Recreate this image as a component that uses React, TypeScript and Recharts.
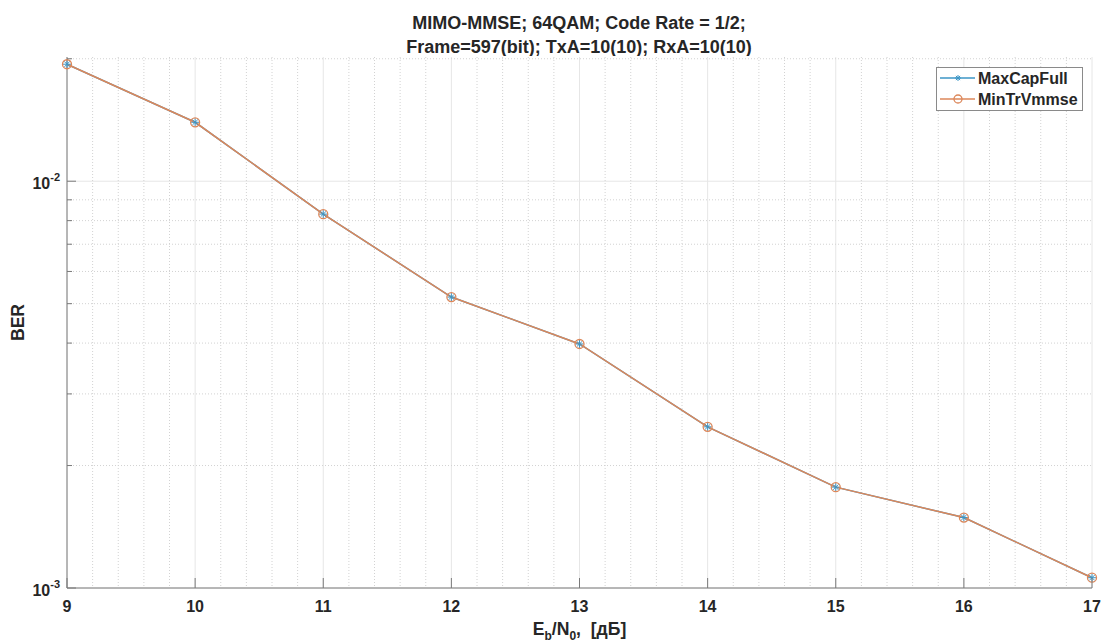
import React from 'react';
import {
  LineChart,
  Line,
  XAxis,
  YAxis,
  CartesianGrid,
  Legend,
} from 'recharts';

// Eb/N0 points (dB) and BER
const SNR_DB = [9, 10, 11, 12, 13, 14, 15, 16, 17];
const BER_MAXCAPFULL = [0.01939, 0.01396, 0.0083, 0.00519, 0.00398, 0.00249, 0.00177, 0.00149, 0.00106];
const BER_MINTRVMMSE = [0.01939, 0.01396, 0.0083, 0.00519, 0.00398, 0.00249, 0.00177, 0.00149, 0.00106];

const X_TICKS = [9, 10, 11, 12, 13, 14, 15, 16, 17];
const X_MINOR = X_TICKS.slice(0, -1).flatMap((t) => [t + 0.2, t + 0.4, t + 0.6, t + 0.8]);
const Y_MAJOR = [0.001, 0.01];
const Y_MINOR = [0.002, 0.003, 0.004, 0.005, 0.006, 0.007, 0.008, 0.009, 0.02];
const Y_TICKS = [0.001, 0.002, 0.003, 0.004, 0.005, 0.006, 0.007, 0.008, 0.009, 0.01, 0.02];
const Y_DOMAIN: [number, number] = [0.001, 0.0202];

const TITLE = ['MIMO-MMSE; 64QAM; Code Rate = 1/2;', 'Frame=597(bit); TxA=10(10); RxA=10(10)'];

const data = SNR_DB.map((snr, i) => ({
  snr,
  maxCap: BER_MAXCAPFULL[i],
  minTr: BER_MINTRVMMSE[i],
}));

const FONT = '"Liberation Sans", Arial, Helvetica, sans-serif';
const AXIS = '#7a7a7a';
const TEXT = '#262626';
const BLUE = '#3d96c6';
const ORANGE = '#dc875a';

const isDecade = (v: number) => Math.abs(Math.log10(v) - Math.round(Math.log10(v))) < 1e-6;

const BottomTick = ({ x, y, payload }: any) => (
  <g>
    <line x1={x} y1={y} x2={x} y2={y - 10} stroke={AXIS} />
    <text x={x} y={y + 24} textAnchor="middle" fontFamily={FONT} fontWeight="bold" fontSize={16} fill={TEXT}>
      {payload.value}
    </text>
  </g>
);

const TopTick = ({ x, y }: any) => <line x1={x} y1={y} x2={x} y2={y + 10} stroke={AXIS} />;

const LeftTick = ({ x, y, payload }: any) => {
  const major = isDecade(payload.value);
  return (
    <g>
      <line x1={x} y1={y} x2={x + (major ? 9 : 5)} y2={y} stroke={AXIS} />
      {major && (
        <text x={x - 7} y={y + 8} textAnchor="end" fontFamily={FONT} fontWeight="bold" fontSize={16} fill={TEXT}>
          10
          <tspan fontSize={11} dy={-8}>
            {Math.round(Math.log10(payload.value))}
          </tspan>
        </text>
      )}
    </g>
  );
};

const RightTick = ({ x, y, payload }: any) => {
  const major = isDecade(payload.value);
  return <line x1={x} y1={y} x2={x - (major ? 9 : 5)} y2={y} stroke={AXIS} />;
};

const Star = ({ cx, cy, color, r = 4 }: { cx: number; cy: number; color: string; r?: number }) => (
  <g stroke={color} strokeWidth={1}>
    <line x1={cx - r} y1={cy} x2={cx + r} y2={cy} />
    <line x1={cx} y1={cy - r} x2={cx} y2={cy + r} />
    <line x1={cx - r * 0.7} y1={cy - r * 0.7} x2={cx + r * 0.7} y2={cy + r * 0.7} />
    <line x1={cx - r * 0.7} y1={cy + r * 0.7} x2={cx + r * 0.7} y2={cy - r * 0.7} />
  </g>
);

const StarDot = (props: any) => {
  const { cx, cy, index } = props;
  if (cx == null || cy == null) return <g key={index} />;
  return <Star key={index} cx={cx} cy={cy} color={BLUE} />;
};

const renderLegend = (props: any) => {
  const items = props.payload || [];
  return (
    <div
      style={{
        width: 147,
        height: 44,
        boxSizing: 'border-box',
        border: '1px solid #8a8a8a',
        background: '#fff',
      }}
    >
      <svg width={145} height={42}>
        {items.map((it: any, i: number) => {
          const cy = 10 + i * 21;
          const c = it.color;
          return (
            <g key={it.value}>
              <line x1={3} y1={cy} x2={38} y2={cy} stroke={c} strokeWidth={1.5} />
              {i === 0 ? (
                <Star cx={21} cy={cy} color={c} r={3} />
              ) : (
                <circle cx={21} cy={cy} r={4} fill="none" stroke={c} strokeWidth={1.3} />
              )}
              <text x={41} y={cy + 6} fontFamily={FONT} fontWeight="bold" fontSize={16} fill={TEXT}>
                {it.value}
              </text>
            </g>
          );
        })}
      </svg>
    </div>
  );
};

const XLabel = ({ viewBox }: any) => (
  <text
    x={viewBox.x + viewBox.width / 2}
    y={viewBox.y + 47}
    textAnchor="middle"
    fontFamily={FONT}
    fontWeight="bold"
    fontSize={17.6}
    fill={TEXT}
  >
    E<tspan fontSize={12} dy={5}>b</tspan>
    <tspan dy={-5}>/N</tspan>
    <tspan fontSize={12} dy={5}>0</tspan>
    <tspan dy={-5}>{',\u00a0\u00a0[дБ]'}</tspan>
  </text>
);

const YLabel = ({ viewBox }: any) => {
  const x = viewBox.x + 24;
  const y = viewBox.y + viewBox.height / 2;
  return (
    <text
      x={x}
      y={y}
      transform={`rotate(-90 ${x} ${y})`}
      textAnchor="middle"
      fontFamily={FONT}
      fontWeight="bold"
      fontSize={17.6}
      fill={TEXT}
    >
      BER
    </text>
  );
};

export default function App() {
  return (
    <div style={{ position: 'absolute', left: 0, top: 0, width: 1108, height: 644, background: '#fff' }}>
      <LineChart width={1108} height={644} data={data} margin={{ top: 57, right: 16, bottom: 0, left: 0 }}>
        <CartesianGrid
          horizontalValues={Y_MAJOR}
          verticalValues={X_TICKS}
          stroke="#e6e6e6"
          strokeWidth={1}
        />
        <CartesianGrid
          horizontalValues={Y_MINOR}
          verticalValues={X_MINOR}
          stroke="#d2d2d2"
          strokeDasharray="1 2"
          strokeWidth={1}
        />
        <XAxis
          dataKey="snr"
          type="number"
          domain={[9, 17]}
          ticks={X_TICKS}
          interval={0}
          height={56}
          tickSize={0}
          tickMargin={0}
          tickLine={false}
          axisLine={{ stroke: AXIS }}
          tick={<BottomTick />}
          label={{ content: <XLabel /> }}
        />
        <XAxis
          xAxisId="top"
          orientation="top"
          dataKey="snr"
          type="number"
          domain={[9, 17]}
          ticks={X_TICKS}
          interval={0}
          height={0}
          tickSize={0}
          tickMargin={0}
          tickLine={false}
          axisLine={{ stroke: AXIS }}
          tick={<TopTick />}
        />
        <YAxis
          type="number"
          scale="log"
          domain={Y_DOMAIN}
          allowDataOverflow
          ticks={Y_TICKS}
          interval={0}
          width={67}
          tickSize={0}
          tickMargin={0}
          tickLine={false}
          axisLine={{ stroke: AXIS }}
          tick={<LeftTick />}
          label={{ content: <YLabel /> }}
        />
        <YAxis
          yAxisId="right"
          orientation="right"
          type="number"
          scale="log"
          domain={Y_DOMAIN}
          allowDataOverflow
          ticks={Y_TICKS}
          interval={0}
          width={0}
          tickSize={0}
          tickMargin={0}
          tickLine={false}
          axisLine={{ stroke: AXIS }}
          tick={<RightTick />}
        />
        <Legend
          layout="horizontal"
          verticalAlign="middle"
          align="center"
          wrapperStyle={{ position: 'absolute', left: 936, top: 67, width: 147, height: 44 }}
          content={renderLegend}
        />
        <Line
          dataKey="maxCap"
          name="MaxCapFull"
          type="linear"
          stroke={BLUE}
          strokeWidth={1.5}
          dot={<StarDot />}
          activeDot={false}
          isAnimationActive={false}
        />
        <Line
          dataKey="minTr"
          name="MinTrVmmse"
          type="linear"
          stroke={ORANGE}
          strokeWidth={1.5}
          dot={{ r: 4.5, fill: 'none', stroke: ORANGE, strokeWidth: 1.3 }}
          activeDot={false}
          isAnimationActive={false}
        />
      </LineChart>
      <svg
        width={1108}
        height={56}
        style={{ position: 'absolute', left: 0, top: 0, pointerEvents: 'none' }}
      >
        <text textAnchor="middle" fontFamily={FONT} fontWeight="bold" fontSize={18} fill={TEXT}>
          <tspan x={579} y={29}>{TITLE[0]}</tspan>
          <tspan x={579} y={53}>{TITLE[1]}</tspan>
        </text>
      </svg>
    </div>
  );
}
